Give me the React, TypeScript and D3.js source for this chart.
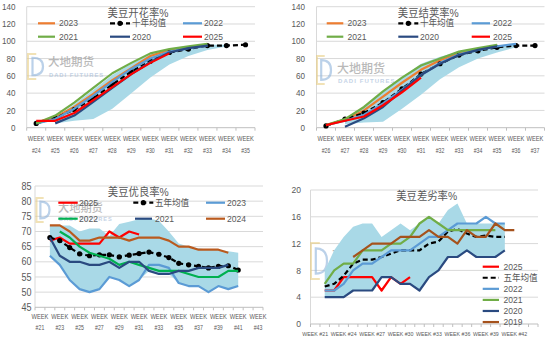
import React from "react";
import * as d3 from "d3";

// ---------- DATA ----------
// Panel 1: 美豆开花率%
const p1Title = "美豆开花率%";
const p1Weeks = [24, 25, 26, 27, 28, 29, 30, 31, 32, 33, 34, 35];
const p1_2023 = [6, 12, 24, 39, 55, 69, 83, 90, 93, 96]; // from wk24
const p1_avg = [5, 11, 21, 34, 50, 65, 77, 87, 91, 95, 95, 96]; // from wk24
const p1_2022 = [5, 10, 22, 37, 53, 68, 80, 88, 92, 95]; // from wk24
const p1_2021 = [5, 14, 29, 46, 63, 75, 86, 91, 94, 97]; // from wk24
const p1_2020 = [5, 14, 30, 46, 62, 76, 87, 92, 95]; // from wk25
const p1_2025 = [8, 8, 17, 32, 47, 62, 75, 86]; // from wk24
const p1BandUpper = [12, 27, 44, 61, 74, 85, 90, 93, 96, 96]; // from wk25
const p1BandLower = [5, 8, 10, 22, 40, 58, 73, 83, 90, 94]; // from wk25

// Panel 2: 美豆结荚率%
const p2Title = "美豆结荚率%";
const p2Weeks = [26, 27, 28, 29, 30, 31, 32, 33, 34, 35, 36, 37];
const p2_2023 = [3, 9, 20, 36, 52, 67, 78, 86, 91, 95]; // from wk26
const p2_avg = [2, 10, 17, 29, 45, 62, 74, 84, 89, 93, 95, 95]; // from wk26
const p2_2022 = [3, 8, 15, 28, 44, 61, 75, 85, 90, 94, 97]; // from wk26
const p2_2021 = [3, 10, 24, 42, 58, 72, 80, 88, 92, 96]; // from wk26
const p2_2020 = [1, 11, 24, 43, 61, 74, 84, 90, 94]; // from wk27
const p2_2025 = [3, 8, 13, 26, 41, 58]; // from wk26
const p2BandUpper = [10, 23, 41, 58, 74, 82, 88, 92, 95, 97]; // from wk27
const p2BandLower = [4, 6, 7, 22, 38, 56, 70, 80, 87, 93]; // from wk27

// Panel 3: 美豆优良率%
const p3Title = "美豆优良率%";
const p3Weeks = [21, 22, 23, 24, 25, 26, 27, 28, 29, 30, 31, 32, 33, 34, 35, 36, 37, 38, 39, 40, 41, 42, 43];
const p3_2025 = [67, 68, 66, 66, 66, 66, 70, 68, 70, 69]; // from wk22
const p3_avg = [68, 67, 64.7, 62.6, 62, 62.3, 62.3, 61.6, 62.2, 62.7, 63.2, 62.5, 61.4, 59.5, 59, 58.5, 58, 58.5, 58.7, 57.3]; // wk22
const p3_2023 = [62, 59, 54, 51, 50, 51, 55, 54, 52, 54, 59, 59, 58, 53, 52, 52, 50, 52, 51, 52]; // wk22
const p3_2022 = [70, 68, 65, 63, 62, 61, 59, 60, 59, 58, 57, 57, 57, 56, 55, 55, 55, 57, 57]; // wk23
const p3_2021 = [68, 62, 60, 60, 59, 59, 60, 58, 60, 60, 57, 56, 56, 57, 57, 58, 58, 58, 59]; // wk22
const p3_2024 = [72, 72, 70, 67, 67, 68, 68, 68, 67, 68, 68, 68, 67, 65, 65, 64, 64, 64, 63]; // wk22
const p3BandUpper = [72, 72, 72, 70, 71, 71, 68.5, 72.5, 73.2, 74, 74.3, 73.5, 70, 66, 65, 64.5, 64, 64, 63.5, 63]; // wk22
const p3BandLower = [62, 59, 54, 51, 50, 51, 55, 54, 52, 54, 57, 56, 56, 53, 52, 52, 50, 52, 51, 52]; // wk22

// Panel 4: 美豆差劣率%
const p4Title = "美豆差劣率%";
const p4Weeks = [21, 22, 23, 24, 25, 26, 27, 28, 29, 30, 31, 32, 33, 34, 35, 36, 37, 38, 39, 40, 41, 42, 43, 44];
const p4_2025 = [5, 5, 7, 7, 7, 7, 5, 7, 6, 7]; // wk22
const p4_avg = [5.6, 6, 7.2, 9, 9.6, 9.6, 10, 10.5, 11, 11, 11, 12, 12.3, 13.8, 14.2, 13.5, 13, 13.2, 13, 13]; // wk22
const p4_2022 = [5, 5, 6, 8, 9, 9, 10, 11, 11, 11, 12, 13, 13, 14, 15, 15, 15, 16, 15, 15]; // wk22
const p4_2021 = [6, 8, 9, 9, 11, 11, 11, 12, 12, 13, 15, 16, 15, 14, 14, 14, 14, 14, 14]; // wk22
const p4_2020 = [4, 4, 4, 5, 5, 5, 7, 7, 6, 6, 5, 7, 8, 10, 10, 11, 10, 10, 10, 11]; // wk22
const p4_2019 = [10, 11, 12, 12, 12, 13, 13, 13, 14, 13, 13, 12, 14, 13, 13, 15, 14, 14]; // wk25
const p4BandUpper = [8, 11, 13, 14.5, 15, 15, 13, 14, 15, 14, 15, 15.8, 15, 17, 18, 15, 15, 15, 15, 15]; // wk22
const p4BandLower = [4, 4, 4, 5, 5, 5, 7, 7, 6, 6, 5, 7, 8, 10, 10, 11, 10, 10, 10, 11]; // wk22

// ---------- STYLE ----------
const FONT = "'Liberation Sans', Arial, 'Noto Sans CJK SC', sans-serif";
const TXT = "#595959";
const GRID = "#D9D9D9";
const C_ORANGE = "#ED7D31";
const C_LBLUE = "#5B9BD5";
const C_GREEN = "#70AD47";
const C_NAVY = "#2A4A80";
const C_RED = "#FF0000";
const C_BLACK = "#000000";
const C_BAND = "#A9D9E7";
const C_BGREEN = "#00B050";
const C_BROWN = "#BA5A1E";
const C_BROWN2 = "#A5521C";

type Series = { name: string; start: number; values: number[]; color: string; dash?: string; dots?: boolean };

function T({ x, y, s = 0.9, size, anchor = "start", fill = TXT, children, ls }: any) {
  return (
    <text
      transform={`translate(${x},${y}) scale(${s},1)`}
      fontSize={size}
      textAnchor={anchor}
      dominantBaseline="central"
      fill={fill}
      fontFamily={FONT}
      letterSpacing={ls}
    >
      {children}
    </text>
  );
}

function Watermark({ wm }: any) {
  const { lx, ly, lw, lh, tx, ty1, ty2, fs } = wm;
  return (
    <g opacity={0.6}>
      <path
        d={`M${lx + lw * 0.55},${ly} L${lx},${ly} L${lx},${ly + lh} L${lx + lw * 0.55},${ly + lh}`}
        fill="none"
        stroke="#E9CF86"
        strokeWidth={2}
      />
      <path
        d={`M${lx + lw * 0.3},${ly + lh * 0.15} L${lx + lw * 0.3},${ly + lh * 0.85} Q${lx + lw},${ly + lh * 0.85} ${lx + lw},${ly + lh * 0.5} Q${lx + lw},${ly + lh * 0.15} ${lx + lw * 0.3},${ly + lh * 0.15} Z`}
        fill="none"
        stroke="#8FB4DC"
        strokeWidth={2.2}
      />
      <text x={tx} y={ty1} fontSize={fs} fill="#8C8C8C" fontFamily="'Noto Sans CJK SC', sans-serif" fontWeight={500}>
        大地期货
      </text>
      <text x={tx + 1} y={ty2} fontSize={fs * 0.5} fill="#9DB6D6" fontFamily={FONT} letterSpacing={fs * 0.09} fontWeight={700}>
        DADI FUTURES
      </text>
    </g>
  );
}

function Panel({ cfg }: any) {
  const { left, right, top, bottom, weeks, yMin, yMax, yStep, yLabelX, yLabelSize, series, band, legend, title, wm, xLabels } = cfg;
  const x = d3.scaleBand<number>().domain(weeks).range([left, right]).paddingInner(0).paddingOuter(0);
  const bw = x.bandwidth();
  const cx = (w: number) => (x(w) as number) + bw / 2;
  const y = d3.scaleLinear().domain([yMin, yMax]).range([bottom, top]);
  const ticks = d3.range(yMin, yMax + 1e-9, yStep);

  const line = d3
    .line<[number, number]>()
    .x((d) => cx(d[0]))
    .y((d) => y(d[1]));
  const area = d3
    .area<[number, number, number]>()
    .x((d) => cx(d[0]))
    .y0((d) => y(d[2]))
    .y1((d) => y(d[1]));
  const bandPts: [number, number, number][] = band.upper.map((u: number, i: number) => [band.start + i, u, band.lower[i]]);

  return (
    <g>
      {ticks.map((t: number) =>
        t === yMin ? null : <line key={t} x1={left} x2={right} y1={y(t)} y2={y(t)} stroke={GRID} strokeWidth={1} />
      )}
      <line x1={left} x2={left} y1={top} y2={bottom} stroke={GRID} strokeWidth={1} />
      <line x1={left} x2={right} y1={bottom} y2={bottom} stroke="#BFBFBF" strokeWidth={1} />
      {weeks.concat([weeks[weeks.length - 1] + 1]).map((w: number, i: number) => {
        const xx = left + i * bw;
        return <line key={"tk" + w} x1={xx} x2={xx} y1={bottom} y2={bottom + 3} stroke="#BFBFBF" strokeWidth={1} />;
      })}
      {ticks.map((t: number) => (
        <T key={"yl" + t} x={yLabelX} y={y(t)} size={yLabelSize} anchor="end">
          {t}
        </T>
      ))}
      {weeks
        .filter((w: number) => (w - weeks[0]) % xLabels.every === 0)
        .map((w: number) =>
          xLabels.oneLine ? (
            <T key={"xl" + w} x={cx(w)} y={xLabels.y1} size={xLabels.size} s={xLabels.s} anchor="middle">
              {"WEEK #" + w}
            </T>
          ) : (
            <g key={"xl" + w}>
              <T x={cx(w)} y={xLabels.y1} size={xLabels.size} s={xLabels.s} anchor="middle">
                WEEK
              </T>
              <T x={cx(w)} y={xLabels.y2} size={xLabels.size2} s={xLabels.s} anchor="middle">
                {"#" + w}
              </T>
            </g>
          )
        )}
      <Watermark wm={wm} />
      <path d={area(bandPts) as string} fill={C_BAND} stroke="none" />
      {series.map((s: Series) => {
        const pts: [number, number][] = s.values.map((v, i) => [s.start + i, v]);
        return (
          <g key={s.name}>
            <path d={line(pts) as string} fill="none" stroke={s.color} strokeWidth={2.2} strokeDasharray={s.dash} strokeLinejoin="round" />
            {s.dots && pts.map((p) => <circle key={p[0]} cx={cx(p[0])} cy={y(p[1])} r={2.6} fill={s.color} />)}
          </g>
        );
      })}
      {legend.items.map((it: any) => {
        const s = series.find((q: Series) => q.name === it.name) as Series;
        return (
          <g key={"lg" + it.name}>
            <line x1={it.x1} x2={it.x2} y1={it.y} y2={it.y} stroke={s.color} strokeWidth={2.2} strokeDasharray={s.dash} />
            {s.dots && <circle cx={(it.x1 + it.x2) / 2} cy={it.y} r={2.6} fill={s.color} />}
            <T x={it.tx} y={it.y} size={legend.size}>
              {it.name}
            </T>
          </g>
        );
      })}
      <T x={title.x} y={title.y} size={title.size} anchor="middle">
        {title.text}
      </T>
    </g>
  );
}

const DASH = "5,3";

const panel1 = {
  left: 26.7, right: 255, top: 6.7, bottom: 127.7,
  weeks: p1Weeks, yMin: 0, yMax: 140, yStep: 20, yLabelX: 15.5, yLabelSize: 9,
  series: [
    { name: "2023", start: 24, values: p1_2023, color: C_ORANGE },
    { name: "十年均值", start: 24, values: p1_avg, color: C_BLACK, dash: DASH, dots: true },
    { name: "2022", start: 24, values: p1_2022, color: C_LBLUE },
    { name: "2021", start: 24, values: p1_2021, color: C_GREEN },
    { name: "2020", start: 25, values: p1_2020, color: C_NAVY },
    { name: "2025", start: 24, values: p1_2025, color: C_RED },
  ],
  band: { start: 25, upper: p1BandUpper, lower: p1BandLower },
  legend: {
    size: 9.5,
    items: [
      { name: "2023", x1: 38, x2: 55, tx: 59, y: 23.3 },
      { name: "十年均值", x1: 110, x2: 130, tx: 132, y: 23.3 },
      { name: "2022", x1: 183, x2: 202, tx: 204, y: 23.3 },
      { name: "2021", x1: 38, x2: 55, tx: 59, y: 36.7 },
      { name: "2020", x1: 110, x2: 130, tx: 132, y: 36.7 },
      { name: "2025", x1: 183, x2: 202, tx: 204, y: 36.7 },
    ],
  },
  title: { text: p1Title, x: 138, y: 12.7, size: 11.5 },
  wm: { lx: 28, ly: 54, lw: 15, lh: 25, tx: 48, ty1: 66, ty2: 77, fs: 11.5 },
  xLabels: { every: 1, y1: 138, y2: 150.7, size: 7.2, size2: 6.5, s: 0.8 },
};

const panel2 = {
  left: 316.5, right: 544.5, top: 6.7, bottom: 127.7,
  weeks: p2Weeks, yMin: 0, yMax: 140, yStep: 20, yLabelX: 305, yLabelSize: 9,
  series: [
    { name: "2023", start: 26, values: p2_2023, color: C_ORANGE },
    { name: "十年均值", start: 26, values: p2_avg, color: C_BLACK, dash: DASH, dots: true },
    { name: "2022", start: 26, values: p2_2022, color: C_LBLUE },
    { name: "2021", start: 26, values: p2_2021, color: C_GREEN },
    { name: "2020", start: 27, values: p2_2020, color: C_NAVY },
    { name: "2025", start: 26, values: p2_2025, color: C_RED },
  ],
  band: { start: 27, upper: p2BandUpper, lower: p2BandLower },
  legend: {
    size: 9.5,
    items: [
      { name: "2023", x1: 326.7, x2: 343.3, tx: 347.5, y: 23.3 },
      { name: "十年均值", x1: 398.3, x2: 418.3, tx: 420, y: 23.3 },
      { name: "2022", x1: 471.7, x2: 490, tx: 493, y: 23.3 },
      { name: "2021", x1: 326.7, x2: 343.3, tx: 347.5, y: 36.7 },
      { name: "2020", x1: 398.3, x2: 418.3, tx: 420, y: 36.7 },
      { name: "2025", x1: 471.7, x2: 490, tx: 493, y: 36.7 },
    ],
  },
  title: { text: p2Title, x: 428.3, y: 12.7, size: 11.5 },
  wm: { lx: 317, ly: 56, lw: 14, lh: 28, tx: 337, ty1: 72.5, ty2: 83, fs: 12 },
  xLabels: { every: 1, y1: 138.3, y2: 150.7, size: 7.2, size2: 6.5, s: 0.8 },
};

const panel3 = {
  left: 35, right: 263, top: 186, bottom: 307.3,
  weeks: p3Weeks, yMin: 45, yMax: 85, yStep: 5, yLabelX: 31.5, yLabelSize: 10,
  series: [
    { name: "2025", start: 22, values: p3_2025, color: C_RED },
    { name: "五年均值", start: 22, values: p3_avg, color: C_BLACK, dash: DASH, dots: true },
    { name: "2023", start: 22, values: p3_2023, color: C_LBLUE },
    { name: "2022", start: 23, values: p3_2022, color: C_BGREEN },
    { name: "2021", start: 22, values: p3_2021, color: C_NAVY },
    { name: "2024", start: 22, values: p3_2024, color: C_BROWN },
  ],
  band: { start: 22, upper: p3BandUpper, lower: p3BandLower },
  legend: {
    size: 9.5,
    items: [
      { name: "2025", x1: 58.3, x2: 77.7, tx: 79, y: 202.7 },
      { name: "五年均值", x1: 133.3, x2: 153.3, tx: 155, y: 202.7 },
      { name: "2023", x1: 206, x2: 225, tx: 227, y: 202.7 },
      { name: "2022", x1: 58.3, x2: 77.7, tx: 79, y: 218.7 },
      { name: "2021", x1: 135, x2: 152, tx: 155, y: 218.7 },
      { name: "2024", x1: 206, x2: 225, tx: 227, y: 218.7 },
    ],
  },
  title: { text: p3Title, x: 138.3, y: 191.7, size: 11.5 },
  wm: { lx: 36.5, ly: 198, lw: 13, lh: 24, tx: 58, ty1: 212, ty2: 221, fs: 11.2 },
  xLabels: { every: 2, y1: 316.7, y2: 327.3, size: 7.2, size2: 6.5, s: 0.8 },
};

const panel4 = {
  left: 310.5, right: 538, top: 190, bottom: 324,
  weeks: p4Weeks, yMin: 0, yMax: 20, yStep: 4, yLabelX: 301, yLabelSize: 9.5,
  series: [
    { name: "2025", start: 22, values: p4_2025, color: C_RED },
    { name: "五年均值", start: 22, values: p4_avg, color: C_BLACK, dash: DASH },
    { name: "2022", start: 22, values: p4_2022, color: C_LBLUE },
    { name: "2021", start: 22, values: p4_2021, color: C_GREEN },
    { name: "2020", start: 22, values: p4_2020, color: C_NAVY },
    { name: "2019", start: 25, values: p4_2019, color: C_BROWN2 },
  ],
  band: { start: 22, upper: p4BandUpper, lower: p4BandLower },
  legend: {
    size: 9.5,
    items: ["2025", "五年均值", "2022", "2021", "2020", "2019"].map((n, i) => ({
      name: n, x1: 482.7, x2: 499, tx: 503.5, y: 266.7 + i * 11.07,
    })),
  },
  title: { text: p4Title, x: 426.7, y: 196, size: 11.5 },
  wm: { lx: 311, ly: 243, lw: 16, lh: 36, tx: 332, ty1: 257, ty2: 270, fs: 13 },
  xLabels: { every: 3, y1: 334, oneLine: true, size: 6.2, s: 0.85 },
};

export default function App() {
  return (
    <svg width={550} height={340} style={{ position: "absolute", left: 0, top: 0, background: "#fff" }}>
      <rect x={0} y={0} width={550} height={340} fill="#fff" />
      <Panel cfg={panel1} />
      <Panel cfg={panel2} />
      <Panel cfg={panel3} />
      <Panel cfg={panel4} />
    </svg>
  );
}
